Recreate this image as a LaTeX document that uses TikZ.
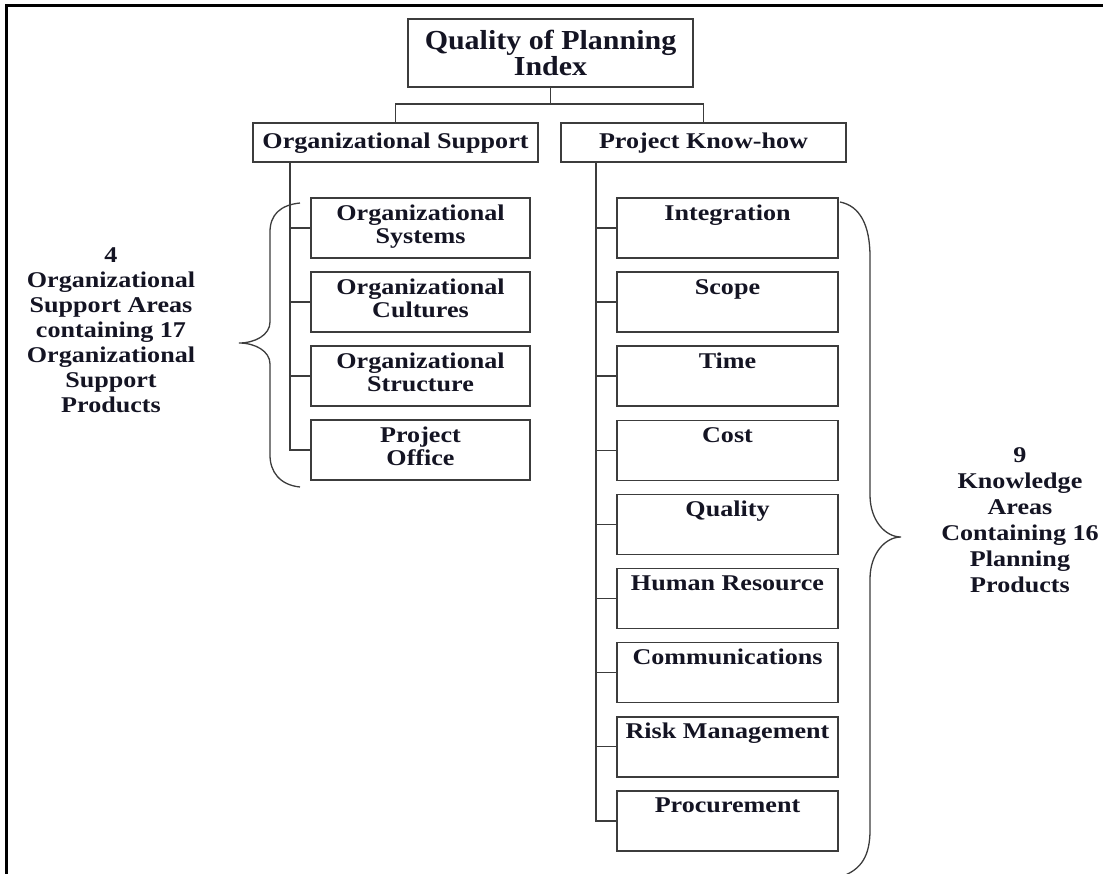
\documentclass[tikz,border=0pt]{standalone}
\usepackage{fontspec}
\setmainfont{Liberation Serif}[FakeStretch=1.16]
\newfontfamily\topfont{Liberation Serif}[FakeStretch=1.09]
\definecolor{linec}{RGB}{60,60,60}
\definecolor{textc}{RGB}{20,20,35}
\newcommand{\bx}[4]{\parbox[c][#1pt][t]{#2pt}{\centering\rule{0pt}{#3pt}#4}}
\begin{document}
\begin{tikzpicture}[x=1pt,y=1pt,
  box/.style={draw=linec, line width=1.6pt, rectangle, inner sep=0pt, outer sep=0pt, anchor=north west, text=textc,
     font=\fontsize{22.5}{23}\selectfont\bfseries},
  conn/.style={draw=linec, line width=1.5pt},
  brace/.style={draw=linec, line width=1.3pt},
  lbl/.style={inner sep=0pt, outer sep=0pt, anchor=north, text=textc}]
\useasboundingbox (0,0) rectangle (1103,-873);
\clip (0,0) rectangle (1103,-873);
% frame
\draw[black, line width=2.6pt] (6.5,-880) -- (6.5,-5.5) -- (1110,-5.5);
% top
\node[box, font=\topfont\fontsize{27.5}{26}\selectfont\bfseries] (top) at (408,-19) {\bx{68}{285}{30}{Quality of Planning\\Index}};
\node[box] (org) at (253,-123) {\bx{39}{285}{25}{Organizational Support}};
\node[box] (pk) at (561,-123) {\bx{39}{285}{25}{Project Know-how}};
\coordinate (hb) at (0,-104);
\draw[conn] (top.south) -- (top.south |- hb);
\draw[conn] (org.north) |- (pk.north |- hb) -- (pk.north);
% left boxes
\node[box] (ls1) at (311,-198) {\bx{60}{219}{22}{Organizational\\Systems}};
\node[box] (ls2) at (311,-272) {\bx{60}{219}{22}{Organizational\\Cultures}};
\node[box] (ls3) at (311,-346) {\bx{60}{219}{22}{Organizational\\Structure}};
\node[box] (ls4) at (311,-420) {\bx{60}{219}{22}{Project\\Office}};
\coordinate (lt) at ([xshift=37pt]org.south west);
\draw[conn] (lt) |- (ls4.west);
\foreach \i in {1,2,3} {\draw[conn] (lt |- ls\i.west) -- (ls\i.west);}
% right boxes
\node[box] (rs1) at (617,-198.0) {\bx{60}{221}{22}{Integration}};
\node[box] (rs2) at (617,-272.1) {\bx{60}{221}{22}{Scope}};
\node[box] (rs3) at (617,-346.2) {\bx{60}{221}{22}{Time}};
\node[box] (rs4) at (617,-420.3) {\bx{60}{221}{22}{Cost}};
\node[box] (rs5) at (617,-494.4) {\bx{60}{221}{22}{Quality}};
\node[box] (rs6) at (617,-568.5) {\bx{60}{221}{22}{Human Resource}};
\node[box] (rs7) at (617,-642.6) {\bx{60}{221}{22}{Communications}};
\node[box] (rs8) at (617,-716.7) {\bx{60}{221}{22}{Risk Management}};
\node[box] (rs9) at (617,-790.8) {\bx{60}{221}{22}{Procurement}};
\coordinate (rt) at ([xshift=35pt]pk.south west);
\draw[conn] (rt) |- (rs9.west);
\foreach \i in {1,...,8} {\draw[conn] (rt |- rs\i.west) -- (rs\i.west);}
% braces
\draw[brace] (300,-203) .. controls (280,-205) and (270,-215) .. (270,-232) -- (270,-322)
  .. controls (270,-335) and (255,-343) .. (239,-343)
  .. controls (255,-343) and (270,-351) .. (270,-364) -- (270,-455)
  .. controls (270,-472) and (280,-485) .. (300,-487);
\draw[brace] (840,-202) .. controls (860,-206) and (870,-225) .. (870,-257) -- (870,-495)
  .. controls (870,-520) and (885,-537) .. (901,-537)
  .. controls (885,-537) and (870,-554) .. (870,-579) -- (870,-830)
  .. controls (870,-855) and (862,-870) .. (840,-877);
% labels
\node[lbl, font=\fontsize{22.5}{25}\selectfont\bfseries] (ll) at (111,-237.7)
  {\parbox[t]{220pt}{\centering\rule{0pt}{25pt}4\\Organizational\\Support Areas\\containing 17\\Organizational\\Support\\Products}};
\node[lbl, font=\fontsize{22.5}{26}\selectfont\bfseries] (rl) at (1020,-436.7)
  {\parbox[t]{200pt}{\centering\rule{0pt}{26pt}9\\Knowledge\\Areas\\Containing 16\\Planning\\Products}};
\end{tikzpicture}
\end{document}
